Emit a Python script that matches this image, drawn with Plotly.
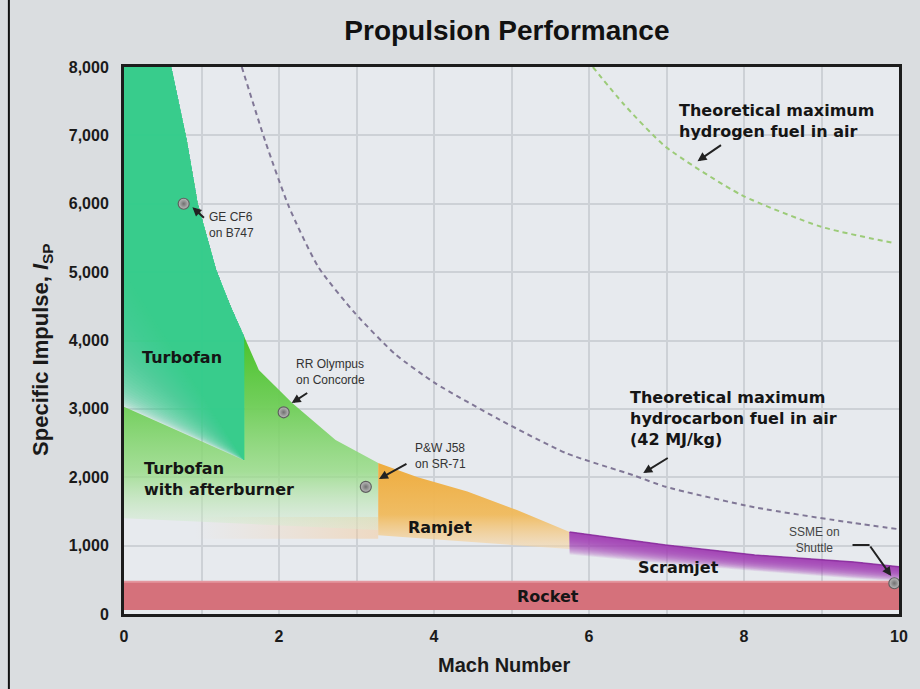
import plotly.graph_objects as go

# ------------------------------------------------------------------ data
turbofan_mach = [0.0, 0.61, 0.81, 0.95, 1.19, 1.38, 1.55]
turbofan_isp = [8000, 8000, 6930, 6010, 5030, 4490, 4060]
turbofan_floor_mach = [1.55, 0.0]
turbofan_floor_isp = [2250, 3030]

afterburner_mach = [1.55, 1.74, 2.17, 2.73, 3.28]
afterburner_isp = [4060, 3570, 3085, 2545, 2207]
afterburner_floor_mach = [3.28, 0.0]
afterburner_floor_isp = [1230, 1400]

ramjet_mach = [3.28, 3.79, 4.43, 5.07, 5.75]
ramjet_isp = [2207, 2000, 1790, 1520, 1200]
ramjet_floor_mach = [5.75, 3.28]
ramjet_floor_isp = [950, 1150]
ramjet_wake_mach = [0.9, 3.28]
ramjet_wake_isp = [1100, 1420]

scramjet_mach = [5.75, 6.99, 8.14, 9.42, 10.0]
scramjet_isp = [1200, 1010, 862, 760, 690]
scramjet_floor_isp = [870, 740, 630, 520, 480]

rocket_mach = [0.0, 10.0]
rocket_isp = [60, 470]

hydrocarbon_mach = [1.52, 1.83, 2.13, 2.51, 2.98, 3.50, 4.01, 4.85, 5.71, 6.57, 6.99, 8.14, 9.42, 10.0]
hydrocarbon_isp = [8000, 6890, 5950, 5070, 4400, 3800, 3380, 2840, 2350, 2030, 1860, 1560, 1330, 1240]

hydrogen_mach = [6.05, 6.44, 6.99, 7.97, 9.0, 9.94]
hydrogen_isp = [8000, 7466, 6832, 6126, 5662, 5424]

engine_names = ["GE CF6<br>on B747", "RR Olympus<br>on Concorde", "P&W J58<br>on SR-71", "SSME on<br>Shuttle"]
engine_mach = [0.77, 2.06, 3.12, 9.94]
engine_isp = [6000, 2950, 1860, 450]

x_tick_vals = list(range(0, 11))
x_tick_text = ["0", "", "2", "", "4", "", "6", "", "8", "", "10"]
y_tick_vals = list(range(0, 8001, 1000))

# ------------------------------------------------------------------ helpers
def rgba(c, a):
    return f"rgba({c[0]},{c[1]},{c[2]},{a})"

fig = go.Figure()

def poly(xs, ys, fillcolor=None, gradient=None):
    kw = dict(x=xs, y=ys, mode="lines", fill="toself", line=dict(width=0),
              hoverinfo="skip", showlegend=False)
    if gradient is not None:
        kw["fillgradient"] = gradient
        kw["fillcolor"] = "rgba(0,0,0,0)"
    else:
        kw["fillcolor"] = fillcolor
    fig.add_trace(go.Scatter(**kw))

# orange wake under the afterburner region
poly([ramjet_wake_mach[0], ramjet_wake_mach[1], ramjet_wake_mach[1], ramjet_wake_mach[0]],
     [ramjet_wake_isp[1], ramjet_wake_isp[1], ramjet_wake_isp[0], ramjet_wake_isp[0]],
     gradient=dict(type="horizontal", start=ramjet_wake_mach[0], stop=ramjet_wake_mach[1],
                   colorscale=[[0, "rgba(245,205,160,0)"], [1, "rgba(245,200,150,0.5)"]]))

# afterburner (green)
ab_x = [turbofan_floor_mach[1], turbofan_floor_mach[0]] + afterburner_mach + afterburner_floor_mach
ab_y = [turbofan_floor_isp[1], turbofan_floor_isp[0]] + afterburner_isp + afterburner_floor_isp
poly(ab_x, ab_y, gradient=dict(type="vertical", start=afterburner_isp[0], stop=afterburner_floor_isp[0],
                               colorscale=[[0, "rgba(74,194,42,1)"], [0.35, "rgba(108,205,84,0.95)"],
                                           [0.7, "rgba(148,219,130,0.8)"], [1, "rgba(215,238,212,0.35)"]]))

# ramjet (orange)
rj_x = ramjet_mach + ramjet_floor_mach
rj_y = ramjet_isp + ramjet_floor_isp
poly(rj_x, rj_y, gradient=dict(type="vertical", start=ramjet_isp[0], stop=ramjet_floor_isp[0],
                               colorscale=[[0, "rgba(238,172,62,1)"], [0.6, "rgba(240,186,92,0.95)"],
                                           [1, "rgba(246,215,170,0.55)"]]))

# scramjet (purple) - stacked layers fading downward
N = 24
purple = (160, 62, 178)
a_p = round(1 - 0.06 ** (1 / N), 4)
for i in range(N):
    f = (i + 1) / N
    lower = [t + (b - t) * f for t, b in zip(scramjet_isp, scramjet_floor_isp)]
    poly(scramjet_mach + scramjet_mach[::-1], scramjet_isp + lower[::-1], fillcolor=rgba(purple, a_p))
fig.add_trace(go.Scatter(x=scramjet_mach, y=scramjet_isp, mode="lines",
                         line=dict(color="rgba(135,40,155,0.8)", width=1.5),
                         hoverinfo="skip", showlegend=False))

# turbofan (teal) - stacked layers fading toward lower-left
teal = (50, 198, 145)
N2 = 36
a_t = round(1 - 0.05 ** (1 / N2), 4)
for i in range(N2):
    b0 = turbofan_floor_isp[1] + (5000 - turbofan_floor_isp[1]) * (i / (N2 - 1)) ** 1.6
    xs = turbofan_mach + [turbofan_floor_mach[0], turbofan_floor_mach[1]]
    ys = turbofan_isp + [turbofan_floor_isp[0], b0]
    poly(xs, ys, fillcolor=rgba(teal, a_t))

# rocket band
poly([rocket_mach[0], rocket_mach[1], rocket_mach[1], rocket_mach[0]],
     [rocket_isp[1], rocket_isp[1], rocket_isp[0], rocket_isp[0]], fillcolor="rgb(213,113,123)")
fig.add_trace(go.Scatter(x=rocket_mach, y=[rocket_isp[1], rocket_isp[1]], mode="lines",
                         line=dict(color="rgb(228,150,158)", width=2), hoverinfo="skip", showlegend=False))

# theoretical maxima
fig.add_trace(go.Scatter(x=hydrocarbon_mach, y=hydrocarbon_isp, mode="lines",
                         line=dict(color="#807796", width=2, dash="5px,4px", shape="spline", smoothing=0.6),
                         hoverinfo="skip", showlegend=False))
fig.add_trace(go.Scatter(x=hydrogen_mach, y=hydrogen_isp, mode="lines",
                         line=dict(color="#9ccb78", width=2, dash="5px,4px", shape="spline", smoothing=0.6),
                         hoverinfo="skip", showlegend=False))

# engines
fig.add_trace(go.Scatter(x=engine_mach, y=engine_isp, mode="markers",
                         marker=dict(size=11, color="#bdbdbd", line=dict(color="#5f5f5f", width=1.2),
                                     gradient=dict(type="radial", color="#707070")),
                         hoverinfo="skip", showlegend=False))

# ------------------------------------------------------------------ annotations
small = dict(family="Liberation Sans, Arial", size=12, color="#333333")
big = dict(family="DejaVu Sans, Verdana", size=16, color="#151515")
ann = []

def label(x, y, text, font, xanchor="left", align="left"):
    ann.append(dict(x=x, y=y, text=text, showarrow=False, font=font, xanchor=xanchor,
                    yanchor="middle", align=align))

def arrow(x, y, ax, ay):
    ann.append(dict(x=x, y=y, ax=ax, ay=ay, text="", showarrow=True, arrowhead=2, arrowsize=0.9,
                    arrowwidth=2, arrowcolor="#222222", standoff=0))

label(1.075, 5687, engine_names[0], small)
arrow(0.883, 5950, 13, 12)
label(2.19, 3538, engine_names[1], small)
arrow(2.164, 3085, 17, -11)
label(3.726, 2310, engine_names[2], small)
arrow(3.29, 1974, 29, -16)
label(8.91, 1082, engine_names[3], dict(small, color="#444444"), xanchor="center", align="center")
arrow(9.90, 556, -22, -31)

label(7.13, 7208, "<b>Theoretical maximum<br>hydrogen fuel in air</b>", big)
arrow(7.40, 6623, 25, -17)
label(6.50, 2866, "<b>Theoretical maximum<br>hydrocarbon fuel in air<br>(42 MJ/kg)</b>", big)
arrow(6.70, 2061, 26, -16)

label(0.205, 3757, "<b>Turbofan</b>", big)
label(0.23, 1974, "<b>Turbofan<br>with afterburner</b>", big)
label(4.08, 1272, "<b>Ramjet</b>", big, xanchor="center")
label(7.16, 687, "<b>Scramjet</b>", big, xanchor="center")
label(5.47, 263, "<b>Rocket</b>", big, xanchor="center")

# axis titles
ann.append(dict(xref="paper", yref="paper", x=(42 - 124) / 781, y=0.484, textangle=-90,
                text="<b>Specific Impulse, <i>I</i><sub>SP</sub></b>", showarrow=False,
                font=dict(family="Liberation Sans, Arial", size=22, color="#1a1a1a"),
                xanchor="center", yanchor="middle"))
ann.append(dict(xref="paper", yref="paper", x=0.49, y=(614 - 665) / 547,
                text="<b>Mach Number</b>", showarrow=False,
                font=dict(family="Liberation Sans, Arial", size=20, color="#1a1a1a"),
                xanchor="center", yanchor="middle"))

shapes = [
    dict(type="line", xref="x", yref="y", x0=9.40, x1=9.62, y0=1009, y1=1009,
         line=dict(color="#222222", width=2)),
    dict(type="line", xref="paper", yref="paper", x0=(8 - 124) / 781, x1=(8 - 124) / 781,
         y0=-0.2, y1=1.2, line=dict(color="#111111", width=2)),
]

axis_font = dict(family="Liberation Sans, Arial", size=16, color="#1a1a1a", weight="bold")
fig.update_layout(
    width=920, height=689,
    margin=dict(l=124, r=15, t=67, b=75),
    paper_bgcolor="#dadde0", plot_bgcolor="#e7eaee",
    showlegend=False,
    title=dict(text="<b>Propulsion Performance</b>", x=0.551, xanchor="center",
               y=1 - 30 / 689, yanchor="middle",
               font=dict(family="Liberation Sans, Arial", size=28, color="#111111")),
    xaxis=dict(range=[0, 10], tickvals=x_tick_vals, ticktext=x_tick_text,
               showgrid=True, gridcolor="#cdd1d6", gridwidth=1.5, zeroline=False,
               showline=True, mirror=True, linecolor="#1c1c1c", linewidth=3,
               ticks="", tickfont=axis_font, ticklabelstandoff=6, fixedrange=True),
    yaxis=dict(range=[0, 8000], tickvals=y_tick_vals, tickformat=",",
               showgrid=True, gridcolor="#cdd1d6", gridwidth=1.5, zeroline=False,
               showline=True, mirror=True, linecolor="#1c1c1c", linewidth=3,
               ticks="", tickfont=axis_font, ticklabelstandoff=9, fixedrange=True),
    annotations=ann,
    shapes=shapes,
)

fig.write_html("out.html", config={"displayModeBar": False},
               post_script="document.body.style.margin='0';document.body.style.background='#dadde0';")
